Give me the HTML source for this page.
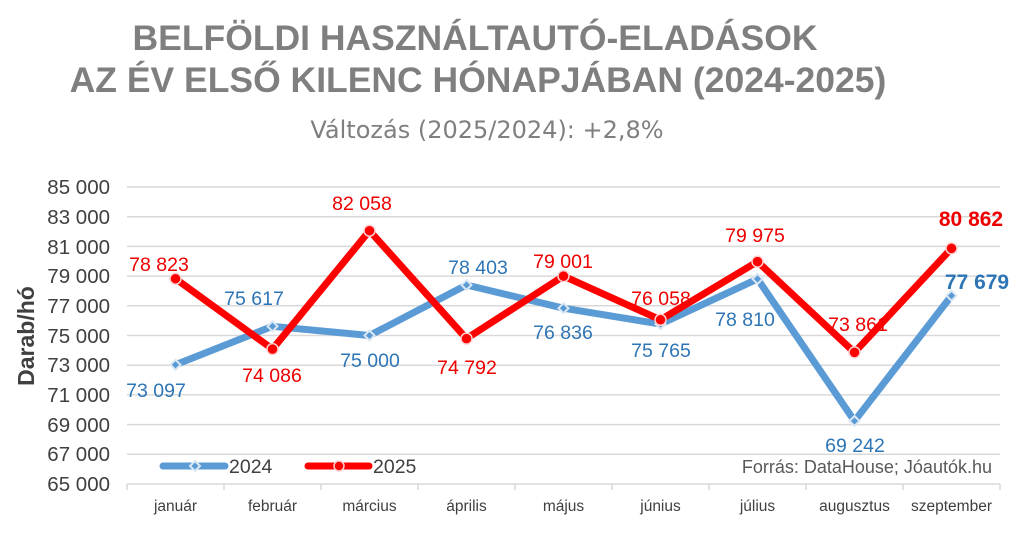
<!DOCTYPE html>
<html><head><meta charset="utf-8"><style>
html,body{margin:0;padding:0;background:#fff;}
svg{display:block;font-family:"Liberation Sans",Arial,sans-serif;}
</style></head><body>
<svg width="1023" height="541" viewBox="0 0 1023 541">
<text x="475" y="50" text-anchor="middle" font-size="35.5" font-weight="bold" fill="#7f7f7f">BELFÖLDI HASZNÁLTAUTÓ-ELADÁSOK</text>
<text x="478" y="92" text-anchor="middle" font-size="35.5" font-weight="bold" fill="#7f7f7f">AZ ÉV ELSŐ KILENC HÓNAPJÁBAN (2024-2025)</text>
<text x="487" y="138" text-anchor="middle" font-size="24" fill="#7f7f7f" font-family="DejaVu Sans, sans-serif">Változás (2025/2024): +2,8%</text>
<g stroke="#d9d9d9" stroke-width="1.5">
<line x1="127" x2="1000" y1="187" y2="187"/><line x1="127" x2="1000" y1="216.7" y2="216.7"/><line x1="127" x2="1000" y1="246.4" y2="246.4"/><line x1="127" x2="1000" y1="276.1" y2="276.1"/><line x1="127" x2="1000" y1="305.8" y2="305.8"/><line x1="127" x2="1000" y1="335.5" y2="335.5"/><line x1="127" x2="1000" y1="365.2" y2="365.2"/><line x1="127" x2="1000" y1="394.9" y2="394.9"/><line x1="127" x2="1000" y1="424.6" y2="424.6"/><line x1="127" x2="1000" y1="454.3" y2="454.3"/><line x1="127" x2="1000" y1="484" y2="484"/>
<line x1="127" x2="127" y1="484" y2="490"/><line x1="224" x2="224" y1="484" y2="490"/><line x1="321" x2="321" y1="484" y2="490"/><line x1="418" x2="418" y1="484" y2="490"/><line x1="515" x2="515" y1="484" y2="490"/><line x1="612" x2="612" y1="484" y2="490"/><line x1="709" x2="709" y1="484" y2="490"/><line x1="806" x2="806" y1="484" y2="490"/><line x1="903" x2="903" y1="484" y2="490"/><line x1="1000" x2="1000" y1="484" y2="490"/>
</g>
<g font-size="20.5" fill="#404040" text-anchor="end">
<text x="110" y="194">85 000</text><text x="110" y="224">83 000</text><text x="110" y="254">81 000</text><text x="110" y="283">79 000</text><text x="110" y="313">77 000</text><text x="110" y="343">75 000</text><text x="110" y="372">73 000</text><text x="110" y="402">71 000</text><text x="110" y="432">69 000</text><text x="110" y="461">67 000</text><text x="110" y="491">65 000</text>
</g>
<text transform="translate(34,336) rotate(-90)" text-anchor="middle" font-size="23" font-weight="bold" fill="#404040">Darab/hó</text>
<g font-size="15.5" fill="#404040" text-anchor="middle">
<text x="175.5" y="511">január</text><text x="272.5" y="511">február</text><text x="369.5" y="511">március</text><text x="466.5" y="511">április</text><text x="563.5" y="511">május</text><text x="660.5" y="511">június</text><text x="757.5" y="511">július</text><text x="854.5" y="511">augusztus</text><text x="951.5" y="511">szeptember</text>
</g>
<polyline fill="none" stroke="#5b9bd5" stroke-width="7" stroke-linejoin="round" points="175.5,364.8 272.5,326.3 369.5,335.5 466.5,285 563.5,308.2 660.5,324.1 757.5,278.9 854.5,421 951.5,295.7"/>
<g fill="#5b9bd5" stroke="#dbe7f3" stroke-width="2">
<path d="M175.5,359.8l5,5l-5,5l-5,-5z"/><path d="M272.5,321.3l5,5l-5,5l-5,-5z"/><path d="M369.5,330.5l5,5l-5,5l-5,-5z"/><path d="M466.5,280l5,5l-5,5l-5,-5z"/><path d="M563.5,303.2l5,5l-5,5l-5,-5z"/><path d="M660.5,319.1l5,5l-5,5l-5,-5z"/><path d="M757.5,273.9l5,5l-5,5l-5,-5z"/><path d="M854.5,416l5,5l-5,5l-5,-5z"/><path d="M951.5,290.7l5,5l-5,5l-5,-5z"/>
</g>
<polyline fill="none" stroke="#ff0000" stroke-width="7" stroke-linejoin="round" points="175.5,278.7 272.5,349.1 369.5,230.7 466.5,338.6 563.5,276.1 660.5,319.8 757.5,261.6 854.5,352.4 951.5,248.4"/>
<g fill="#ff0000" stroke="#fbd0d0" stroke-width="1.5">
<circle cx="175.5" cy="278.7" r="5.5"/><circle cx="272.5" cy="349.1" r="5.5"/><circle cx="369.5" cy="230.7" r="5.5"/><circle cx="466.5" cy="338.6" r="5.5"/><circle cx="563.5" cy="276.1" r="5.5"/><circle cx="660.5" cy="319.8" r="5.5"/><circle cx="757.5" cy="261.6" r="5.5"/><circle cx="854.5" cy="352.4" r="5.5"/><circle cx="951.5" cy="248.4" r="5.5"/>
</g>
<g font-size="19.5" fill="#2e75b6" text-anchor="middle">
<text x="156" y="397">73 097</text><text x="254" y="305">75 617</text><text x="370" y="367">75 000</text><text x="478" y="274">78 403</text><text x="563" y="339">76 836</text><text x="661" y="357">75 765</text><text x="745" y="326">78 810</text><text x="855" y="452">69 242</text>
<text x="977" y="289" font-weight="bold" font-size="21">77 679</text>
</g>
<g font-size="19.5" fill="#ee0000" text-anchor="middle">
<text x="159" y="271">78 823</text><text x="272" y="382">74 086</text><text x="362" y="210">82 058</text><text x="467" y="374">74 792</text><text x="563" y="268">79 001</text><text x="661" y="305">76 058</text><text x="755" y="242">79 975</text><text x="858" y="331">73 861</text>
<text x="971" y="226" font-weight="bold" font-size="21">80 862</text>
</g>
<line x1="163" x2="225" y1="466" y2="466" stroke="#5b9bd5" stroke-width="7" stroke-linecap="round"/>
<path d="M195,461l5,5l-5,5l-5,-5z" fill="#5b9bd5" stroke="#dbe7f3" stroke-width="2"/>
<text x="229" y="473" font-size="19.5" fill="#404040">2024</text>
<line x1="308" x2="369" y1="466" y2="466" stroke="#ff0000" stroke-width="7" stroke-linecap="round"/>
<circle cx="339" cy="466" r="5" fill="#ff0000" stroke="#fbd0d0" stroke-width="1.5"/>
<text x="373" y="473" font-size="19.5" fill="#404040">2025</text>
<text x="992" y="473" text-anchor="end" font-size="18" fill="#595959">Forrás: DataHouse; Jóautók.hu</text>
</svg>
</body></html>
